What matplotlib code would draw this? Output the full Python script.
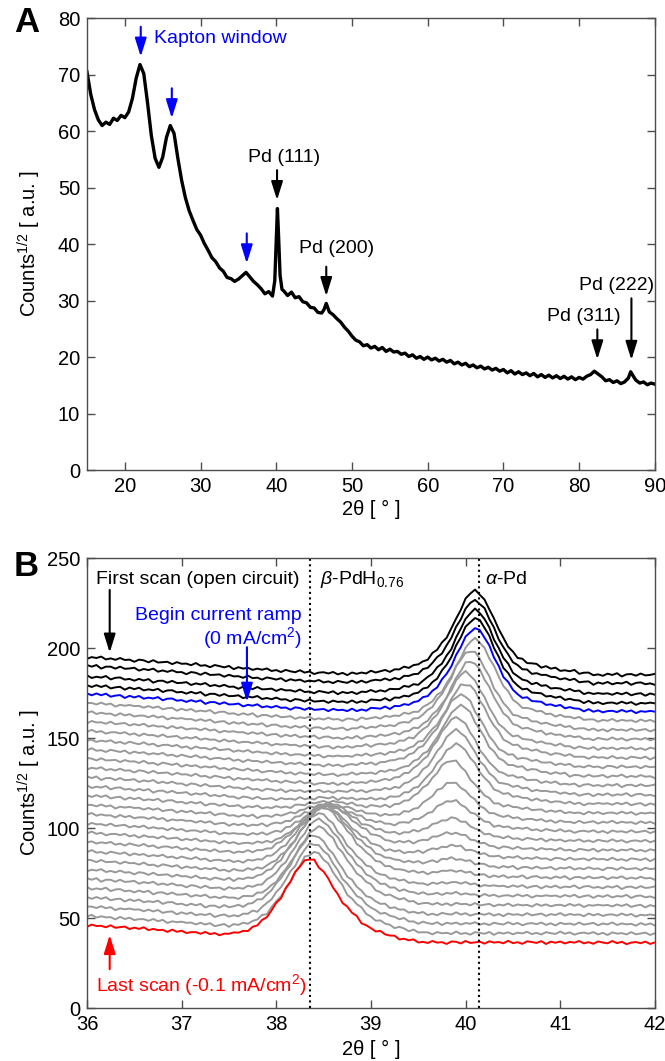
import numpy as np
import matplotlib
matplotlib.use("Agg")
import matplotlib.pyplot as plt

plt.rcParams['font.family'] = ['Liberation Sans', 'DejaVu Sans']
plt.rcParams['mathtext.fontset'] = 'custom'
plt.rcParams['mathtext.rm'] = 'Liberation Sans'
plt.rcParams['mathtext.it'] = 'Liberation Sans:italic'
plt.rcParams['font.size'] = 14

# ---------------- Panel A: full pattern ----------------
a_two_theta = [
    15, 15.5, 16, 16.5, 17, 17.5, 18, 18.5, 19, 19.5,
    20, 20.5, 21, 21.5, 22, 22.5, 23, 23.5, 24, 24.5,
    25, 25.5, 26, 26.5, 27, 27.5, 28, 28.5, 29, 29.5,
    30, 30.5, 31, 31.5, 32, 32.5, 33, 33.5, 34, 34.5,
    35, 35.5, 36, 36.5, 37, 37.5, 38, 38.5, 39, 39.5,
    39.8, 40.0, 40.15, 40.3, 40.5, 40.75, 41, 41.5, 42, 42.5,
    43, 43.5, 44, 44.5, 45, 45.5, 46, 46.3, 46.6, 47,
    47.5, 48, 48.5, 49, 49.5, 50, 50.5, 51, 51.5, 52,
    52.5, 53, 53.5, 54, 54.5, 55, 55.5, 56, 56.5, 57,
    57.5, 58, 58.5, 59, 59.5, 60, 60.5, 61, 61.5, 62,
    62.5, 63, 63.5, 64, 64.5, 65, 65.5, 66, 66.5, 67,
    67.5, 68, 68.5, 69, 69.5, 70, 70.5, 71, 71.5, 72,
    72.5, 73, 73.5, 74, 74.5, 75, 75.5, 76, 76.5, 77,
    77.5, 78, 78.5, 79, 79.5, 80, 80.5, 81, 81.5, 82,
    82.5, 83, 83.5, 84, 84.5, 85, 85.5, 86, 86.5, 86.8,
    87.2, 87.5, 88, 88.5, 89, 89.5, 90,
]
a_counts = [
    70.5, 66.5, 63.8, 62.0, 61.0, 61.6, 61.2, 62.3, 61.9, 62.8,
    62.4, 63.4, 65.8, 69.4, 71.8, 70.2, 65.0, 59.2, 55.2, 53.6,
    55.4, 58.9, 61.0, 59.6, 55.2, 51.3, 48.2, 45.9, 44.2, 42.6,
    41.6, 40.1, 38.9, 37.6, 36.9, 35.8, 35.2, 34.1, 33.9, 33.4,
    33.8, 34.4, 35.0, 34.2, 33.4, 32.8, 32.1, 31.2, 31.6, 30.8,
    33.5, 41.0, 46.3, 41.5, 34.5, 32.0, 31.7, 30.9, 31.5, 30.5,
    30.7, 29.8, 29.6, 28.8, 28.7, 27.9, 27.8, 28.4, 29.5, 28.0,
    27.5, 26.8, 26.2, 25.3, 24.6, 23.7, 23.0, 22.7, 22.0, 22.2,
    21.6, 21.9, 21.3, 21.7, 21.0, 21.4, 20.9, 21.0, 20.5, 20.7,
    20.1, 20.4, 19.8, 20.1, 19.6, 20.0, 19.5, 19.8, 19.3, 19.6,
    19.1, 19.4, 18.8, 19.1, 18.6, 18.9, 18.3, 18.6, 18.1, 18.4,
    17.9, 18.2, 17.7, 18.0, 17.5, 17.8, 17.2, 17.6, 17.0, 17.4,
    16.9, 17.2, 16.7, 17.1, 16.5, 16.9, 16.4, 16.8, 16.3, 16.7,
    16.2, 16.6, 16.1, 16.5, 16.0, 16.4, 16.1, 16.6, 16.9, 17.5,
    17.0, 16.5, 15.8, 16.0, 15.5, 15.8, 15.3, 15.6, 16.3, 17.4,
    16.5, 15.9, 15.4, 15.6, 15.1, 15.4, 15.2,
]

# ---------------- Panel B: in-situ scans ----------------
b_step = 0.05
b_two_theta = np.round(36 + b_step * np.arange(121), 2)

# slope of every scan, relative to its value at 42 deg (one value per 0.05 deg)
b_baseline = [
    9.8, 9.6, 9.5, 9.3, 9.2, 9.0, 8.8, 8.7, 8.5, 8.4,
    8.2, 8.0, 7.8, 7.6, 7.4, 7.2, 7.1, 6.9, 6.7, 6.5,
    6.3, 6.1, 5.9, 5.7, 5.5, 5.3, 5.1, 4.9, 4.7, 4.5,
    4.3, 4.1, 3.9, 3.7, 3.5, 3.4, 3.2, 3.0, 2.8, 2.7,
    2.5, 2.3, 2.2, 2.0, 1.9, 1.7, 1.6, 1.4, 1.3, 1.2,
    1.1, 1.0, 0.95, 0.9, 0.85, 0.8, 0.75, 0.7, 0.65, 0.62,
    0.6, 0.58, 0.56, 0.54, 0.52, 0.5, 0.48, 0.46, 0.44, 0.42,
    0.4, 0.39, 0.38, 0.37, 0.36, 0.35, 0.34, 0.33, 0.32, 0.31,
    0.3, 0.3, 0.3, 0.3, 0.3, 0.3, 0.3, 0.3, 0.3, 0.3,
    0.3, 0.3, 0.3, 0.3, 0.3, 0.3, 0.3, 0.3, 0.3, 0.3,
    0.3, 0.29, 0.28, 0.27, 0.26, 0.25, 0.24, 0.23, 0.22, 0.21,
    0.2, 0.18, 0.16, 0.14, 0.12, 0.1, 0.08, 0.06, 0.04, 0.02,
    0.0,
]
# counting noise seen on the traces
b_wiggle = [
    0.3, -0.5, 0.6, -0.2, 0.8, -0.7, 0.1, 0.5, -0.9, 0.4,
    -0.3, 0.7, -0.6, 0.2, -0.1, 0.9, -0.8, 0.3, 0.6, -0.4,
    0.1, -0.7, 0.5, -0.2, 0.8, -1.0, 0.2, 0.4, -0.5, 0.7,
    -0.3, 0.0, 0.6, -0.8, 0.3, -0.1, 0.9, -0.6, 0.2, -0.4,
    0.7, -0.2, 0.1, -0.9, 0.5, 0.3, -0.6, 0.8, -0.3, 0.0,
    0.4, -0.7, 0.6, -0.1, 0.2, -0.5, 0.9, -0.4, 0.1, -0.8,
    0.6, 0.2, -0.3, 0.7, -0.9, 0.4, -0.2, 0.5, -0.6, 0.3,
    -0.1, 0.8, -0.5, 0.2, -0.7, 0.6, 0.0, -0.4, 0.9, -0.3,
    0.5, -0.8, 0.1, 0.4, -0.2, 0.7, -0.6, 0.3, -0.9, 0.6,
    -0.1, 0.2, -0.5, 0.8, -0.4, 0.1, 0.6, -0.7, 0.3, -0.2,
    0.9, -0.5, 0.4, -0.1, 0.2, -0.8, 0.7, -0.3, 0.5, -0.6,
    0.1, 0.3, -0.4, 0.8, -0.2, 0.6, -0.9, 0.2, -0.1, 0.4,
    0.0,
]

# alpha-Pd peak shape, offsets -1.2 .. +1.2 deg
alpha_start = -1.2
alpha_profile = [
    0.01, 0.015, 0.02, 0.025, 0.03, 0.035, 0.04, 0.05, 0.06, 0.07,
    0.085, 0.10, 0.12, 0.15, 0.19, 0.24, 0.30, 0.37, 0.45, 0.55,
    0.66, 0.78, 0.89, 0.97, 1.00, 0.97, 0.89, 0.78, 0.66, 0.54,
    0.43, 0.34, 0.26, 0.20, 0.17, 0.15, 0.13, 0.115, 0.10, 0.09,
    0.075, 0.065, 0.055, 0.045, 0.04, 0.035, 0.025, 0.015, 0.01,
]
# beta-PdH peak shape, offsets -1.0 .. +1.2 deg
beta_start = -1.0
beta_profile = [
    0.00, 0.01, 0.01, 0.02, 0.03, 0.04, 0.06, 0.08, 0.11, 0.15,
    0.20, 0.27, 0.34, 0.43, 0.52, 0.62, 0.72, 0.82, 0.92, 0.98,
    1.00, 0.98, 0.92, 0.85, 0.76, 0.67, 0.58, 0.49, 0.42, 0.36,
    0.30, 0.25, 0.20, 0.16, 0.14, 0.12, 0.10, 0.08, 0.065, 0.05,
    0.035, 0.025, 0.015, 0.01, 0.00,
]

# open-circuit scans (black), top to bottom
black_offset = [185.2, 180.4, 174.5, 169.4]
black_alpha = [46.5, 46.0, 46.5, 47.0]

# current ramp: first entry is the blue scan, last is the red scan
ramp_offset = [164.8, 159.7, 154.5, 149.4, 144.2, 139.1, 134.0, 128.8, 123.7,
               118.5, 113.4, 108.3, 103.1, 98.0, 92.8, 87.7, 82.6, 77.4, 72.3,
               67.1, 62.0, 56.9, 51.7, 46.6, 41.4, 36.3]
ramp_alpha = [46, 45, 44, 43, 42, 41, 40, 39, 37.5, 35.5, 33, 29, 22, 17,
              12.5, 9.5, 7.5, 5.5, 3.8, 2.5, 1.5, 0.8, 0.4, 0.2, 0, 0]
ramp_alpha_pos = [40.10, 40.10, 40.05, 40.05, 40.00, 40.00, 39.95, 39.95, 39.90,
                  39.90, 39.90, 39.85, 39.85, 39.85, 39.85, 39.85, 39.85, 39.85,
                  39.85, 39.85, 39.85, 39.85, 39.85, 39.85, 39.85, 39.85]
ramp_beta = [0, 0, 0, 0, 0, 0, 0, 0, 0, 1, 2.5, 5.5, 9.5, 14, 19, 24, 29, 34,
             38, 40, 41.5, 42.5, 43, 43.5, 44, 45]
ramp_beta_pos = [38.55, 38.55, 38.55, 38.55, 38.55, 38.55, 38.55, 38.55, 38.55,
                 38.55, 38.55, 38.55, 38.55, 38.55, 38.55, 38.55, 38.50, 38.50,
                 38.50, 38.45, 38.45, 38.45, 38.40, 38.40, 38.40, 38.35]


def place(profile, start, center):
    # put a peak shape on the scan grid, centred on a grid point
    out = np.zeros(len(b_two_theta))
    i0 = int(round((center - 36) / b_step)) + int(round(start / b_step))
    for i, v in enumerate(profile):
        j = i0 + i
        if 0 <= j < len(out):
            out[j] = v
    return out


def scan(offset, a_amp, a_pos, b_amp, b_pos, k):
    y = offset + np.array(b_baseline) + np.roll(b_wiggle, 11 * k)
    y = y + a_amp * place(alpha_profile, alpha_start, a_pos)
    y = y + b_amp * place(beta_profile, beta_start, b_pos)
    return y


fig = plt.figure(figsize=(6.65, 10.61), dpi=100)
axA = fig.add_axes([0.1308, 0.557, 0.854, 0.4258])
axB = fig.add_axes([0.1308, 0.0497, 0.854, 0.4241])

for ax in (axA, axB):
    ax.tick_params(direction='in', top=True, right=True, length=6,
                   width=1, color='0.3', labelsize=14.5, pad=5)
    for s in ax.spines.values():
        s.set_color('0.3')
        s.set_linewidth(1.0)

# --- A ---
axA.plot(a_two_theta, a_counts, color='black', lw=2.4)
axA.set_xlim(15, 90)
axA.set_ylim(0, 80)
axA.set_xticks(range(20, 91, 10))
axA.set_yticks(range(0, 81, 10))
axA.set_xlabel('2θ [ ° ]', fontsize=14.5)
axA.set_ylabel('Counts$^{1/2}$ [ a.u. ]', fontsize=14.5)
axA.xaxis.set_label_coords(0.5, -0.066)
axA.yaxis.set_label_coords(-0.078, 0.5)

arrow_kw = dict(arrowstyle='-|>,head_length=0.8,head_width=0.25', lw=1.5,
                shrinkA=0, shrinkB=0, mutation_scale=14)


def down_arrow(ax, x, y0, y1, color):
    ax.annotate('', xy=(x, y1), xytext=(x, y0),
                arrowprops=dict(color=color, **arrow_kw))


down_arrow(axA, 22.1, 78.5, 73.2, 'blue')
down_arrow(axA, 26.2, 67.6, 62.3, 'blue')
down_arrow(axA, 36.1, 41.9, 36.6, 'blue')
axA.text(23.8, 76.4, 'Kapton window', color='blue', va='center', ha='left')

down_arrow(axA, 40.1, 53.1, 47.8, 'black')
axA.text(41.0, 55.4, 'Pd (111)', ha='center', va='center')
down_arrow(axA, 46.6, 36.0, 30.8, 'black')
axA.text(47.9, 39.3, 'Pd (200)', ha='center', va='center')
down_arrow(axA, 82.4, 24.9, 19.6, 'black')
axA.text(80.6, 27.2, 'Pd (311)', ha='center', va='center')
down_arrow(axA, 86.9, 30.4, 19.5, 'black')
axA.text(85.0, 32.6, 'Pd (222)', ha='center', va='center')

# --- B ---
n = len(ramp_offset)
for k in range(1, n - 1):
    axB.plot(b_two_theta, scan(ramp_offset[k], ramp_alpha[k], ramp_alpha_pos[k],
                               ramp_beta[k], ramp_beta_pos[k], k),
             color='0.6', lw=1.4)
for j in range(len(black_offset)):
    axB.plot(b_two_theta, scan(black_offset[j], black_alpha[j], 40.10, 0, 38.55, 30 + j),
             color='black', lw=1.4)
axB.plot(b_two_theta, scan(ramp_offset[0], ramp_alpha[0], ramp_alpha_pos[0],
                           ramp_beta[0], ramp_beta_pos[0], 0), color='#0000ff', lw=1.4)
axB.plot(b_two_theta, scan(ramp_offset[-1], ramp_alpha[-1], ramp_alpha_pos[-1],
                           ramp_beta[-1], ramp_beta_pos[-1], n - 1), color='#ff0000', lw=1.4)

axB.axvline(38.36, color='black', ls=':', lw=1.5)
axB.axvline(40.14, color='black', ls=':', lw=1.5)

axB.set_xlim(36, 42)
axB.set_ylim(0, 250)
axB.set_xticks(range(36, 43))
axB.set_yticks(range(0, 251, 50))
axB.set_xlabel('2θ [ ° ]', fontsize=14.5)
axB.set_ylabel('Counts$^{1/2}$ [ a.u. ]', fontsize=14.5)
axB.xaxis.set_label_coords(0.5, -0.07)
axB.yaxis.set_label_coords(-0.078, 0.5)

axB.text(36.09, 238.3, 'First scan (open circuit)', va='center', ha='left')
axB.text(38.46, 238.0, r'$\beta$-PdH$_{0.76}$', va='center', ha='left')
axB.text(40.21, 238.0, r'$\alpha$-Pd', va='center', ha='left')
axB.text(38.27, 218.0, 'Begin current ramp', color='blue', va='center', ha='right')
axB.text(38.27, 205.5, '(0 mA/cm$^2$)', color='blue', va='center', ha='right')
axB.text(36.09, 13.0, 'Last scan (-0.1 mA/cm$^2$)', color='red', va='center', ha='left')

down_arrow(axB, 36.24, 232.4, 197.6, 'black')
down_arrow(axB, 37.69, 200.6, 170.3, 'blue')
down_arrow(axB, 36.24, 21.7, 40.7, 'red')

fig.text(0.04, 0.979, 'A', fontsize=25, fontweight='bold', ha='center', va='center')
fig.text(0.04, 0.466, 'B', fontsize=25, fontweight='bold', ha='center', va='center')

fig.savefig('out.png', dpi=100)
